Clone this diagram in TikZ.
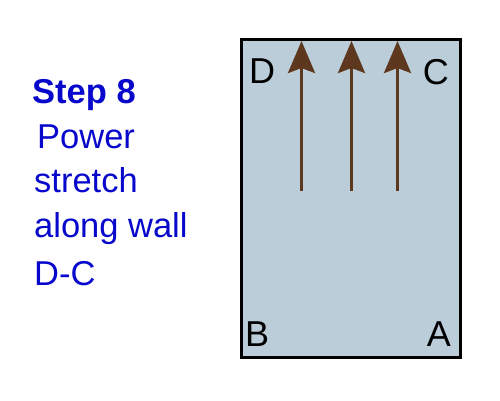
\documentclass[tikz,border=0pt]{standalone}
\usepackage{fontspec}
\setmainfont{Liberation Sans}
\usetikzlibrary{arrows.meta}
\definecolor{roomfill}{RGB}{186,205,217}
\definecolor{arrowbrown}{RGB}{94,56,30}
\definecolor{textblue}{RGB}{8,8,204}
\tikzset{
  steptext/.style={text=textblue, inner sep=0pt, anchor=base west, font=\fontsize{34.5}{34.5}\selectfont},
  corner/.style={text=black, inner sep=0pt, font=\fontsize{36}{36}\selectfont},
  move/.style={draw=arrowbrown, line width=3.2pt, -{Stealth[length=32pt, width=27pt, inset=5pt]}}
}
\begin{document}
\begin{tikzpicture}[x=1pt, y=-1pt]
\useasboundingbox (0,0) rectangle (500,400);
\draw[fill=roomfill, line width=3pt] (241,39) rectangle (460,357);
\node[steptext, font=\fontsize{34.5}{34.5}\selectfont\bfseries] (t1) at (32,103) {Step 8};
\node[steptext] (t2) at (37,148) {Power};
\node[steptext] (t3) at (34,192) {stretch};
\node[steptext] (t4) at (34,237) {along wall};
\node[steptext] (t5) at (34,285) {D-C};
\node[corner, anchor=base west] (D) at (249,83) {D};
\node[corner, anchor=base east] (C) at (449,84) {C};
\node[corner, anchor=base west] (B) at (245,346) {B};
\node[corner, anchor=base east] (A) at (451,346) {A};
\coordinate (s1) at (301.5,191);
\coordinate (e1) at (301.5,41);
\coordinate (s2) at (351.5,191);
\coordinate (e2) at (351.5,41);
\coordinate (s3) at (397.5,191);
\coordinate (e3) at (397.5,41);
\draw[move] (s1) -- (e1);
\draw[move] (s2) -- (e2);
\draw[move] (s3) -- (e3);
\end{tikzpicture}
\end{document}
